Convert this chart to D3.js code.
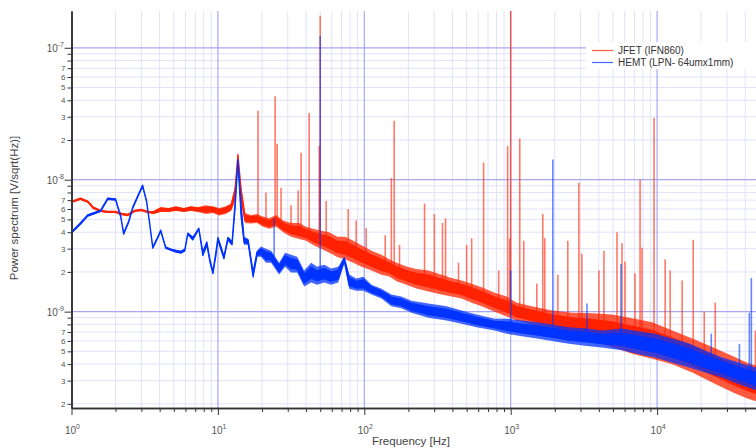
<!DOCTYPE html>
<html>
<head>
<meta charset="utf-8">
<script src="https://cdn.jsdelivr.net/npm/d3@7"></script>
<style>
  body { margin: 0; background: #fff; }
  svg { font-family: "Liberation Sans", Arial, sans-serif; }
</style>
</head>
<body>
<svg id="chart" width="756" height="448"></svg>
<script>
// JFET noise trace: [frequency Hz, lower edge, upper edge] in V/sqrt(Hz)
const jfetBand = [
  [1, 6.7e-9, 6.9e-9], [1.15, 7.05e-9, 7.3e-9], [1.29, 6.7e-9, 6.95e-9], [1.41, 6.0e-9, 6.25e-9],
  [1.58, 5.7e-9, 5.9e-9], [1.77, 5.6e-9, 5.8e-9], [2.0, 5.6e-9, 5.8e-9], [2.2, 5.4e-9, 5.6e-9],
  [2.42, 5.3e-9, 5.5e-9], [2.7, 5.7e-9, 5.9e-9], [2.97, 5.8e-9, 6.0e-9], [3.32, 5.6e-9, 5.8e-9],
  [3.64, 5.5e-9, 5.8e-9], [4.07, 5.7e-9, 6.2e-9], [4.62, 5.7e-9, 6.1e-9], [5.16, 5.8e-9, 6.3e-9],
  [5.85, 5.7e-9, 6.1e-9], [6.53, 5.8e-9, 6.3e-9], [7.3, 5.7e-9, 6.2e-9], [8.28, 5.5e-9, 6.4e-9],
  [9.25, 5.6e-9, 6.3e-9], [10.2, 5.35e-9, 6.1e-9], [11.3, 5.5e-9, 6.3e-9], [12.3, 5.8e-9, 6.6e-9],
  [13.1, 6.9e-9, 9.0e-9], [13.7, 1.39e-8, 1.6e-8], [14.4, 6.9e-9, 9.0e-9], [15.3, 4.7e-9, 5.6e-9],
  [16.8, 4.65e-9, 5.4e-9], [18.5, 4.7e-9, 5.5e-9], [20.3, 4.4e-9, 5.25e-9], [22.4, 4.25e-9, 5.1e-9],
  [25, 4.4e-9, 5.4e-9], [27.9, 4.0e-9, 4.9e-9], [31.6, 3.7e-9, 4.7e-9], [35.9, 3.55e-9, 4.7e-9],
  [40, 3.45e-9, 4.4e-9], [44.8, 3.2e-9, 4.25e-9], [50.7, 3.0e-9, 4.1e-9], [57.6, 2.8e-9, 4.0e-9],
  [65.3, 2.6e-9, 3.7e-9], [74, 2.5e-9, 3.7e-9], [84, 2.35e-9, 3.45e-9], [95, 2.2e-9, 3.2e-9],
  [112, 2.05e-9, 2.9e-9], [131, 1.9e-9, 2.7e-9], [148, 1.85e-9, 2.5e-9], [166, 1.7e-9, 2.35e-9],
  [194, 1.6e-9, 2.2e-9], [227, 1.5e-9, 2.1e-9], [274, 1.42e-9, 2.05e-9], [337, 1.35e-9, 1.9e-9],
  [394, 1.3e-9, 1.8e-9], [462, 1.26e-9, 1.72e-9], [541, 1.17e-9, 1.63e-9], [633, 1.1e-9, 1.53e-9],
  [777, 1.0e-9, 1.39e-9], [939, 9.2e-10, 1.3e-9], [1100, 8.55e-10, 1.17e-9], [1390, 8.0e-10, 1.1e-9],
  [1910, 7.2e-10, 1.02e-9], [2620, 6.6e-10, 9.8e-10], [3590, 6.0e-10, 9.7e-10], [4920, 5.4e-10, 9.5e-10],
  [6750, 4.8e-10, 8.9e-10], [9250, 4.4e-10, 8.3e-10], [12700, 4.0e-10, 7.2e-10], [17400, 3.45e-10, 6.25e-10],
  [23800, 2.9e-10, 5.4e-10], [32700, 2.45e-10, 4.6e-10], [41300, 2.2e-10, 4.1e-10], [50000, 2.05e-10, 3.8e-10]
];

// JFET narrow lines: [frequency Hz, peak]
const jfetSpikes = [
  [18.8, 3.33e-8], [21.3, 8.0e-9], [24.6, 4.3e-8], [25.4, 1.87e-8], [27.0, 8.7e-9], [31.6, 6.4e-9],
  [35.3, 8.3e-9], [37.0, 1.6e-8], [42.0, 3.2e-8], [49.2, 1.8e-8], [50, 1.75e-7], [54.9, 6.9e-9],
  [77.6, 6.0e-9], [88, 4.9e-9], [103, 4.3e-9], [139, 3.8e-9], [153, 1.03e-8], [160, 2.8e-8],
  [174, 3.2e-9], [258, 6.6e-9], [301, 5.5e-9], [342, 4.7e-9], [359, 5.1e-9], [440, 2.35e-9],
  [500, 3.2e-9], [541, 3.6e-9], [653, 1.35e-8], [828, 2.05e-9], [953, 1.8e-8], [985, 3.6e-9],
  [1000, 1.9e-7], [1153, 2.05e-8], [1228, 3.45e-9], [1507, 1.63e-9], [1656, 5.5e-9], [1710, 3.6e-9],
  [2099, 1.9e-9], [2455, 3.45e-9], [2922, 9.5e-9], [3063, 2.75e-9], [4006, 2.05e-9], [4335, 2.9e-9],
  [5322, 4.0e-9], [5757, 3.3e-9], [6040, 2.4e-9], [7067, 1.95e-9], [7650, 1.0e-8], [7890, 3.05e-9],
  [9530, 2.95e-8], [11350, 2.5e-9], [12280, 2.05e-9], [14830, 1.72e-9], [17650, 3.5e-9], [20990, 1.0e-9],
  [24960, 1.17e-9], [46900, 7.2e-10]
];

// HEMT noise trace: [frequency Hz, lower edge, upper edge]
const hemtBand = [
  [1, 3.9e-9, 4.05e-9], [1.15, 4.55e-9, 4.75e-9], [1.29, 5.25e-9, 5.45e-9], [1.41, 5.45e-9, 5.65e-9],
  [1.58, 5.7e-9, 5.9e-9], [1.77, 7.05e-9, 7.3e-9], [2.0, 6.95e-9, 7.2e-9], [2.17, 5.15e-9, 5.35e-9],
  [2.27, 3.83e-9, 3.97e-9], [2.46, 4.73e-9, 4.9e-9], [2.62, 6.03e-9, 6.25e-9], [2.83, 7.3e-9, 7.57e-9],
  [3.06, 8.85e-9, 9.17e-9], [3.26, 6.7e-9, 6.94e-9], [3.42, 4.56e-9, 4.73e-9], [3.59, 3.0e-9, 3.11e-9],
  [3.82, 3.45e-9, 3.57e-9], [4.07, 4.04e-9, 4.18e-9], [4.40, 3.0e-9, 3.11e-9], [4.77, 2.9e-9, 3.0e-9],
  [5.16, 2.8e-9, 2.95e-9], [5.58, 2.75e-9, 2.9e-9], [5.94, 2.85e-9, 3.0e-9], [6.23, 3.83e-9, 3.97e-9],
  [6.74, 3.45e-9, 3.7e-9], [7.41, 4.18e-9, 4.33e-9], [7.89, 2.61e-9, 2.9e-9], [8.41, 3.11e-9, 3.45e-9],
  [8.82, 2.35e-9, 2.52e-9], [9.25, 1.91e-9, 2.05e-9], [9.69, 2.61e-9, 2.9e-9], [10, 3.45e-9, 3.7e-9],
  [10.5, 2.9e-9, 3.16e-9], [11, 2.48e-9, 2.66e-9], [11.7, 3.45e-9, 3.7e-9], [12.5, 3.16e-9, 3.45e-9],
  [13.1, 5.83e-9, 6.94e-9], [13.7, 1.35e-8, 1.44e-8], [14.4, 4.9e-9, 6.94e-9], [15.1, 3.22e-9, 3.7e-9],
  [16.1, 3.22e-9, 3.57e-9], [17.4, 1.78e-9, 2.05e-9], [18.5, 2.61e-9, 2.9e-9], [19.7, 2.61e-9, 3.11e-9],
  [21.3, 2.35e-9, 3.0e-9], [23.1, 2.35e-9, 2.9e-9], [26.2, 1.91e-9, 2.35e-9], [28.8, 2.19e-9, 2.8e-9],
  [31.6, 1.98e-9, 2.7e-9], [34.8, 1.98e-9, 2.61e-9], [38.8, 1.55e-9, 2.05e-9], [43.4, 1.66e-9, 2.35e-9],
  [47.6, 1.6e-9, 2.19e-9], [53.2, 1.66e-9, 2.27e-9], [59.4, 1.6e-9, 2.12e-9], [66.4, 1.66e-9, 2.19e-9],
  [73, 2.35e-9, 2.61e-9], [78.9, 1.49e-9, 1.91e-9], [88.2, 1.44e-9, 1.78e-9], [98.4, 1.44e-9, 1.84e-9],
  [112, 1.35e-9, 1.6e-9], [131, 1.26e-9, 1.49e-9], [153, 1.1e-9, 1.35e-9], [179, 1.06e-9, 1.3e-9],
  [210, 9.8e-10, 1.21e-9], [274, 9.0e-10, 1.15e-9], [365, 8.55e-10, 1.1e-9], [462, 8.1e-10, 1.02e-9],
  [585, 7.6e-10, 9.5e-10], [777, 7.2e-10, 8.85e-10], [939, 6.8e-10, 8.85e-10], [1190, 6.5e-10, 8.55e-10],
  [1510, 6.25e-10, 8.3e-10], [1910, 6.0e-10, 8.0e-10], [2500, 5.7e-10, 7.6e-10], [3320, 5.5e-10, 7.45e-10],
  [4200, 5.35e-10, 7.2e-10], [5760, 5.1e-10, 7.45e-10], [7890, 4.7e-10, 7.05e-10], [9690, 4.5e-10, 6.8e-10],
  [12700, 4.1e-10, 6.25e-10], [16600, 3.77e-10, 5.73e-10], [21300, 3.45e-10, 5.07e-10], [27900, 3.16e-10, 4.5e-10],
  [36500, 2.8e-10, 4.1e-10], [50000, 2.48e-10, 3.7e-10]
];

// HEMT narrow lines: [frequency Hz, peak]
const hemtSpikes = [
  [24.2, 5.1e-9], [50, 1.23e-7], [1000, 2.05e-9], [1940, 1.42e-8], [3320, 1.15e-9],
  [5667, 2.3e-9], [23440, 6.8e-10], [36500, 5.7e-10], [42660, 9.8e-10], [44030, 1.8e-9]
];

const seriesNames = ["JFET (IFN860)", "HEMT (LPN- 64umx1mm)"];
const seriesColors = ["#ff2200", "#0033ff"];

const xDecades = [1, 10, 100, 1000, 10000];
const xExponents = ["0", "1", "2", "3", "4"];
const yDecades = [1e-10, 1e-9, 1e-8, 1e-7];
const yExponents = ["-10", "-9", "-8", "-7"];
const minorSteps = [2, 3, 4, 5, 6, 7, 8, 9];
const yMinorLabelled = [2, 3, 4, 5, 6, 7];

const xMax = 4.8e4, yMin = 1.86e-10, yMax = 1.9e-7;

const svg = d3.select("#chart");
const plotLeft = 71.5, plotTop = 11, plotBottom = 408, plotRight = 756;

const x = d3.scaleLog().domain([1, xMax]).range([plotLeft, plotLeft + 146.4 * Math.log10(xMax)]);
const y = d3.scaleLog().domain([yMin, yMax]).range([plotBottom, plotTop]);

const inX = v => x(v) > plotLeft + 0.5 && x(v) <= plotRight;
const inY = v => v >= yMin && v <= yMax;

const xMinor = xDecades.flatMap(d => minorSteps.map(m => d * m)).filter(inX);
const xMajor = xDecades.filter(v => x(v) <= plotRight);
const yMinor = yDecades.flatMap(d => minorSteps.map(m => d * m)).filter(inY);
const yMajor = yDecades.filter(inY);

// grid
const grid = svg.append("g");
grid.selectAll(".vmin").data(xMinor).enter().append("line")
    .attr("x1", d => x(d)).attr("x2", d => x(d))
    .attr("y1", plotTop).attr("y2", plotBottom)
    .style("stroke", "#e2e2fa").style("stroke-width", 1);
grid.selectAll(".hmin").data(yMinor).enter().append("line")
    .attr("x1", plotLeft).attr("x2", plotRight)
    .attr("y1", d => y(d)).attr("y2", d => y(d))
    .style("stroke", "#e2e2fa").style("stroke-width", 1);
grid.selectAll(".vmaj").data(xMajor.filter(inX)).enter().append("line")
    .attr("x1", d => x(d)).attr("x2", d => x(d))
    .attr("y1", plotTop).attr("y2", plotBottom)
    .style("stroke", "#a8a8f2").style("stroke-width", 1.2);
grid.selectAll(".hmaj").data(yMajor).enter().append("line")
    .attr("x1", plotLeft).attr("x2", plotRight)
    .attr("y1", d => y(d)).attr("y2", d => y(d))
    .style("stroke", "#a8a8f2").style("stroke-width", 1.2);

// clip for traces
svg.append("clipPath").attr("id", "plotclip").append("rect")
   .attr("x", plotLeft).attr("y", plotTop)
   .attr("width", plotRight - plotLeft).attr("height", plotBottom - plotTop);

const traces = svg.append("g").attr("clip-path", "url(#plotclip)");

// outer envelope (ragged edge) and a denser core pulled toward the centre
const outerArea = d3.area()
    .x(d => x(d[0]))
    .y0(d => y(d[1]))
    .y1(d => y(d[2]));

const coreShrink = 0.55;
const coreArea = d3.area()
    .x(d => x(d[0]))
    .y0(d => { const m = (y(d[1]) + y(d[2])) / 2; return m + (y(d[1]) - m) * coreShrink; })
    .y1(d => { const m = (y(d[1]) + y(d[2])) / 2; return m + (y(d[2]) - m) * coreShrink; });

// level of a band at frequency f (log interpolation between stored points)
function bandLevel(band, f) {
  const i = Math.max(1, Math.min(band.length - 1, d3.bisector(d => d[0]).left(band, f)));
  const a = band[i - 1], b = band[i];
  const t = (Math.log(f) - Math.log(a[0])) / (Math.log(b[0]) - Math.log(a[0]));
  const la = Math.log(a[1] * a[2]) / 2, lb = Math.log(b[1] * b[2]) / 2;
  return Math.exp(la + (lb - la) * t);
}

function drawSeries(band, spikes, color) {
  traces.append("path")
        .datum(band)
        .attr("d", outerArea)
        .style("fill", color)
        .style("fill-opacity", 0.75)
        .style("stroke", "none");
  traces.append("path")
        .datum(band)
        .attr("d", coreArea)
        .style("fill", color)
        .style("stroke", color)
        .style("stroke-width", 1.3)
        .style("stroke-linejoin", "round");
  traces.selectAll(null)
        .data(spikes)
        .enter()
        .append("line")
        .attr("x1", d => x(d[0])).attr("x2", d => x(d[0]))
        .attr("y1", d => y(d[1]))
        .attr("y2", d => y(bandLevel(band, d[0])))
        .style("stroke", color)
        .style("stroke-width", 1.6)
        .style("stroke-opacity", 0.6);
}

drawSeries(jfetBand, jfetSpikes, seriesColors[0]);
drawSeries(hemtBand, hemtSpikes, seriesColors[1]);

// axes
const axisColor = "#333";
const yAxisMinor = svg.append("g").attr("transform", `translate(${plotLeft},0)`)
    .call(d3.axisLeft(y).tickValues(yMinor.filter(v => !yMajor.includes(v))).tickSize(4).tickSizeOuter(0).tickFormat(""));
const yAxisMajor = svg.append("g").attr("transform", `translate(${plotLeft},0)`)
    .call(d3.axisLeft(y).tickValues(yMajor).tickSize(7).tickSizeOuter(0).tickFormat(""));
const xAxisMinor = svg.append("g").attr("transform", `translate(0,${plotBottom})`)
    .call(d3.axisBottom(x).tickValues(xMinor.filter(v => !xMajor.includes(v))).tickSize(4).tickSizeOuter(0).tickFormat(""));
const xAxisMajor = svg.append("g").attr("transform", `translate(0,${plotBottom})`)
    .call(d3.axisBottom(x).tickValues(xMajor).tickSize(7).tickSizeOuter(0).tickFormat(""));

[yAxisMinor, yAxisMajor, xAxisMinor, xAxisMajor].forEach(g => {
  g.select(".domain").style("stroke", axisColor).style("stroke-width", 1.6);
  g.selectAll(".tick line").style("stroke", axisColor).style("stroke-width", 1);
});

// tick labels with superscript exponents
const labelColor = "#555";
xMajor.forEach(d => {
  const t = svg.append("text")
      .attr("x", x(d) + 1).attr("y", 434)
      .attr("text-anchor", "middle")
      .style("font-size", "10px").style("fill", labelColor)
      .text("10");
  t.append("tspan").attr("dy", -5).style("font-size", "7px").text(xExponents[xDecades.indexOf(d)]);
});

yMajor.forEach(d => {
  const t = svg.append("text")
      .attr("x", 64).attr("y", y(d) + 4)
      .attr("text-anchor", "end")
      .style("font-size", "10px").style("fill", labelColor)
      .text("10");
  t.append("tspan").attr("dy", -5).style("font-size", "7px").text(yExponents[yDecades.indexOf(d)]);
});

yDecades.forEach(dec => {
  yMinorLabelled.forEach(m => {
    const v = dec * m;
    if (!inY(v)) return;
    svg.append("text")
       .attr("x", 65.5).attr("y", y(v) + 3)
       .attr("text-anchor", "end")
       .style("font-size", "8px").style("fill", labelColor)
       .text(m);
  });
});

// axis titles
svg.append("text")
   .attr("x", 372).attr("y", 445)
   .style("font-size", "11.5px").style("fill", "#444")
   .text("Frequency [Hz]");

svg.append("text")
   .attr("transform", "translate(18,208) rotate(-90)")
   .attr("text-anchor", "middle")
   .style("font-size", "11.5px").style("fill", "#444")
   .text("Power spectrum [V/sqrt(Hz)]");

// legend
const legend = svg.append("g");
legend.append("rect")
      .attr("x", 586).attr("y", 42).attr("width", 170).attr("height", 27)
      .style("fill", "#fff");
seriesNames.forEach((name, i) => {
  const ly = 50.5 + i * 12;
  legend.append("line")
        .attr("x1", 592).attr("x2", 613).attr("y1", ly).attr("y2", ly)
        .style("stroke", seriesColors[i]).style("stroke-width", 1.2)
        .style("stroke-opacity", 0.75);
  legend.append("text")
        .attr("x", 618).attr("y", ly + 3.5)
        .style("font-size", "10px").style("fill", "#333")
        .text(name);
});
</script>
</body>
</html>
